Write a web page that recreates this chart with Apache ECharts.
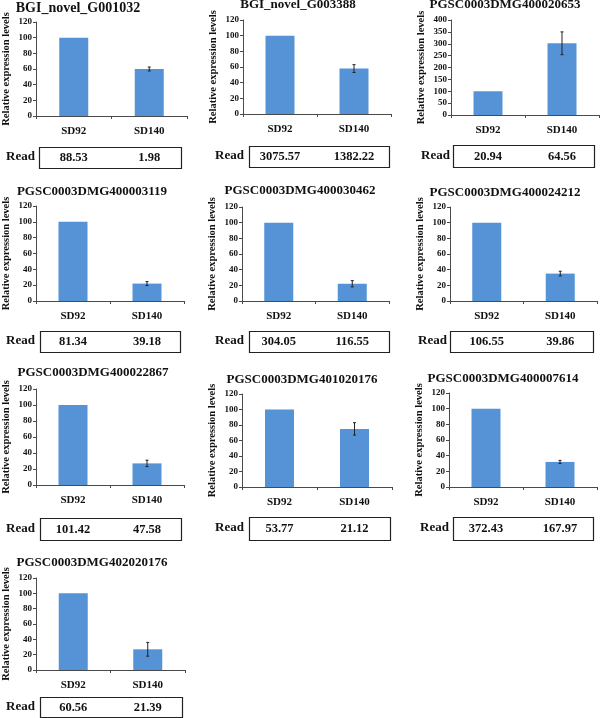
<!DOCTYPE html>
<html><head><meta charset="utf-8">
<script src="https://cdn.jsdelivr.net/npm/echarts@6/dist/echarts.min.js"></script>
<style>html,body{margin:0;padding:0;background:#fff}#c{width:600px;height:718px}</style>
</head><body><div id="c"></div>
<script>
// ---- data ----
const titles = ['BGI_novel_G001032','BGI_novel_G003388','PGSC0003DMG400020653',
  'PGSC0003DMG400003119','PGSC0003DMG400030462','PGSC0003DMG400024212',
  'PGSC0003DMG400022867','PGSC0003DMG401020176','PGSC0003DMG400007614',
  'PGSC0003DMG402020176'];
const categories = ['SD92','SD140'];
const sd92Values  = [100,100,100,100,100,100,100,100,100,100];
const sd140Values = [60,58,302,22,22,35,27,75,32,27];
const sd92Errors  = [0,0,0,0,0,0,0,0,0,0];
const sd140Errors = [2.5,5,48,2.5,4,3,4,8,2,9];
const sd92Reads  = ['88.53','3075.57','20.94','81.34','304.05','106.55','101.42','53.77','372.43','60.56'];
const sd140Reads = ['1.98','1382.22','64.56','39.18','116.55','39.86','47.58','21.12','167.97','21.39'];
const yMax = [120,120,400,120,120,120,120,120,120,120];
const yInterval = [20,20,50,20,20,20,20,20,20,20];
const yName = 'Relative expression levels';
const readLabel = 'Read';

// ---- layout (positions only) ----
const layout = [
 {grid:[35,22,152,94],  title:[78,8,14],   box:[39,147,142,21],  read:[6,157]},
 {grid:[243,20,148,94], title:[298,5,13],  box:[249,146,140,21], read:[215,156]},
 {grid:[451,20,148,95], title:[505,5,13],  box:[453,145,141,22], read:[421,156]},
 {grid:[33,206,151,95], title:[92,192,13], box:[40,331,140,21],  read:[6,341]},
 {grid:[242,207,147,94],title:[300,191,13],box:[249,331,140,21], read:[215,341]},
 {grid:[450,207,147,94],title:[505,193,13],box:[450,331,143,21], read:[418,341]},
 {grid:[33,389,151,96], title:[93,373,13], box:[40,518,141,22],  read:[6,529]},
 {grid:[242,394,150,93],title:[302,380,13],box:[249,517,141,23], read:[215,528]},
 {grid:[449,393,148,94],title:[503,379,13],box:[453,517,140,23], read:[420,528]},
 {grid:[35,578,150,92], title:[92,563,13], box:[40,697,142,20],  read:[6,707]}
];

const FONT = 'Liberation Serif';
const AX = '#4a4a4a';
const BAR = '#5593d6';

const chart = echarts.init(document.getElementById('c'), null, {renderer:'canvas'});
const grid = [], xAxis = [], yAxis = [], series = [];
titles.forEach((t,i)=>{
  const g = layout[i].grid;
  grid.push({left:g[0], top:g[1], width:g[2], height:g[3], containLabel:false});
  xAxis.push({type:'category', gridIndex:i, data:categories,
    axisLine:{lineStyle:{color:AX,width:1}},
    axisTick:{show:true,length:3,lineStyle:{color:AX}},
    axisLabel:{fontFamily:FONT,fontWeight:'bold',fontSize:11,color:'#111',margin:10}});
  yAxis.push({type:'value', gridIndex:i, min:0, max:yMax[i], interval:yInterval[i],
    name:yName, nameLocation:'middle', nameRotate:90, nameGap:24,
    nameTextStyle:{fontFamily:FONT,fontWeight:'bold',fontSize:10.5,color:'#111'},
    axisLine:{show:true,lineStyle:{color:AX,width:1}},
    axisTick:{show:true,length:3,lineStyle:{color:AX}},
    splitLine:{show:false},
    axisLabel:{fontFamily:FONT,fontWeight:'bold',fontSize:9,color:'#111',margin:4}});
  series.push({type:'bar', xAxisIndex:i, yAxisIndex:i, barWidth:29,
    itemStyle:{color:BAR}, data:[sd92Values[i], sd140Values[i]], silent:true});
  const errData = [
    [0, sd92Values[i]-sd92Errors[i], sd92Values[i]+sd92Errors[i], sd92Errors[i]],
    [1, sd140Values[i]-sd140Errors[i], sd140Values[i]+sd140Errors[i], sd140Errors[i]]
  ];
  series.push({type:'custom', xAxisIndex:i, yAxisIndex:i, silent:true, z:5,
    data:errData,
    renderItem:function(params, api){
      if (api.value(3) <= 0) return null;
      const lo = api.coord([api.value(0), api.value(1)]);
      const hi = api.coord([api.value(0), api.value(2)]);
      const hw = 1.5;
      const st = {stroke:'#222', lineWidth:1};
      return {type:'group', children:[
        {type:'line', shape:{x1:lo[0],y1:lo[1],x2:hi[0],y2:hi[1]}, style:st},
        {type:'line', shape:{x1:hi[0]-hw,y1:hi[1],x2:hi[0]+hw,y2:hi[1]}, style:st},
        {type:'line', shape:{x1:lo[0]-hw,y1:lo[1],x2:lo[0]+hw,y2:lo[1]}, style:st}
      ]};
    }});
});

chart.setOption({animation:false, grid, xAxis, yAxis, series});

// graphics: titles and read boxes
const graphic = [];
titles.forEach((t,i)=>{
  const L = layout[i];
  graphic.push({type:'text', x:L.title[0], y:L.title[1], silent:true,
    style:{text:t, textAlign:'center', textVerticalAlign:'middle',
      font:'bold '+L.title[2]+'px "'+FONT+'"', fill:'#111'}});
  graphic.push({type:'rect', silent:true,
    shape:{x:L.box[0]+0.5, y:L.box[1]+0.5, width:L.box[2], height:L.box[3]},
    style:{fill:'none', stroke:'#222', lineWidth:1.2}});
  graphic.push({type:'text', x:L.read[0], y:L.read[1], silent:true,
    style:{text:readLabel, textAlign:'left', textVerticalAlign:'middle',
      font:'bold 13px "'+FONT+'"', fill:'#111'}});
  const reads = [sd92Reads[i], sd140Reads[i]];
  categories.forEach((c,k)=>{
    const px = chart.convertToPixel({xAxisIndex:i}, c);
    graphic.push({type:'text', x:px, y:L.box[1]+L.box[3]/2+0.5, silent:true,
      style:{text:reads[k], textAlign:'center', textVerticalAlign:'middle',
        font:'bold 12.5px "'+FONT+'"', fill:'#111'}});
  });
});
chart.setOption({graphic});
</script></body></html>
